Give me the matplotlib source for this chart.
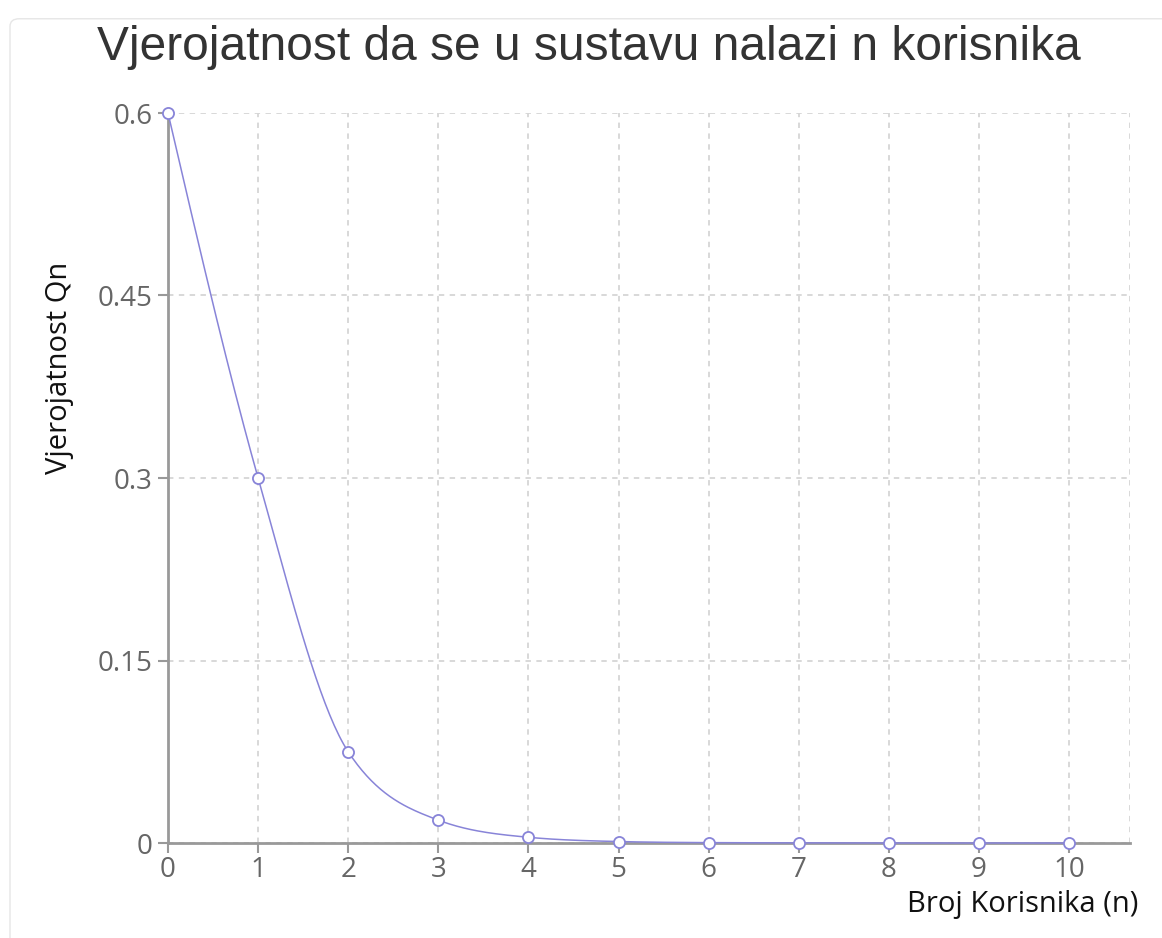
import numpy as np
import matplotlib.pyplot as plt
from matplotlib.patches import FancyBboxPatch

# data
nUsers = [0, 1, 2, 3, 4, 5, 6, 7, 8, 9, 10]
probQn = [0.6, 0.3, 0.075, 0.0188, 0.0047, 0.0012, 0.0003, 0.0001, 0.00002, 0.0, 0.0]
yTicks = [0, 0.15, 0.3, 0.45, 0.6]
yTickLabels = ["0", "0.15", "0.3", "0.45", "0.6"]

lineColor = "#8884d8"
tickFont = "Open Sans"


def monotoneCurve(xs, ys, steps=40):
    # same idea as d3 curveMonotoneX, only used to draw the smooth line
    xs = np.asarray(xs, float)
    ys = np.asarray(ys, float)
    n = len(xs)
    h = np.diff(xs)
    s = np.diff(ys) / h
    t = np.zeros(n)
    for i in range(1, n - 1):
        p = (s[i - 1] * h[i] + s[i] * h[i - 1]) / (h[i - 1] + h[i])
        t[i] = (np.sign(s[i - 1]) + np.sign(s[i])) * min(abs(s[i - 1]), abs(s[i]), 0.5 * abs(p))
    t[0] = (3 * s[0] - t[1]) / 2
    t[-1] = (3 * s[-1] - t[-2]) / 2
    outX, outY = [], []
    for i in range(n - 1):
        u = np.linspace(0, 1, steps)
        h00 = 2 * u**3 - 3 * u**2 + 1
        h10 = u**3 - 2 * u**2 + u
        h01 = -2 * u**3 + 3 * u**2
        h11 = u**3 - u**2
        outX.extend(xs[i] + u * h[i])
        outY.extend(h00 * ys[i] + h10 * h[i] * t[i] + h01 * ys[i + 1] + h11 * h[i] * t[i + 1])
    return outX, outY


fig = plt.figure(figsize=(11.62, 9.38), dpi=100)
card = FancyBboxPatch((10 / 1162, -0.02), 1.2, 1.0, boxstyle="round,pad=0,rounding_size=0.008",
                      transform=fig.transFigure, facecolor="white", edgecolor="#e6e6e6", lw=1, zorder=-10)
fig.patches.append(card)

ax = fig.add_axes([168 / 1162, (938 - 843) / 938, (1130 - 168) / 1162, (843 - 113) / 938])
ax.set_facecolor("none")

curveX, curveY = monotoneCurve(nUsers, probQn)
ax.plot(curveX, curveY, color=lineColor, lw=1.1, zorder=3, clip_on=False)
ax.plot(nUsers, probQn, linestyle="none", marker="o", markersize=8, markerfacecolor="white",
        markeredgecolor=lineColor, markeredgewidth=1.3, zorder=4, clip_on=False)

ax.set_xlim(0, (1130 - 168) / 90.1)
ax.set_ylim(0, 0.6)
ax.set_xticks(nUsers)
ax.set_xticklabels([str(v) for v in nUsers])
ax.set_yticks(yTicks)
ax.set_yticklabels(yTickLabels)

ax.grid(True, color="#d6d6d6", linestyle=(0, (3, 3)), lw=1.3, zorder=0)
ax.axvline(ax.get_xlim()[1], color="#d6d6d6", linestyle=(0, (3, 3)), lw=1.3, zorder=0)

for side in ["top", "right"]:
    ax.spines[side].set_visible(False)
for side in ["left", "bottom"]:
    ax.spines[side].set_color("#999999")
    ax.spines[side].set_linewidth(2)

ax.tick_params(axis="both", colors="#999999", length=7, width=1.5, direction="out",
               labelcolor="#666666", labelsize=20)
for lbl in ax.get_xticklabels() + ax.get_yticklabels():
    lbl.set_fontfamily(tickFont)
ax.tick_params(axis="x", pad=2)
ax.tick_params(axis="y", pad=4)

fig.text(589 / 1162, 1 - 47 / 938, "Vjerojatnost da se u sustavu nalazi n korisnika",
         ha="center", va="center", fontsize=34.5, color="#333333", family="Liberation Sans")
fig.text(59 / 1162, 1 - 368 / 938, "Vjerojatnost Qn", rotation=90, ha="center", va="center",
         fontsize=21, color="#111111", family=tickFont)
fig.text(1138 / 1162, 1 - 904 / 938, "Broj Korisnika (n)", ha="right", va="center",
         fontsize=21, color="#111111", family=tickFont)

fig.savefig("out.png", dpi=100)
